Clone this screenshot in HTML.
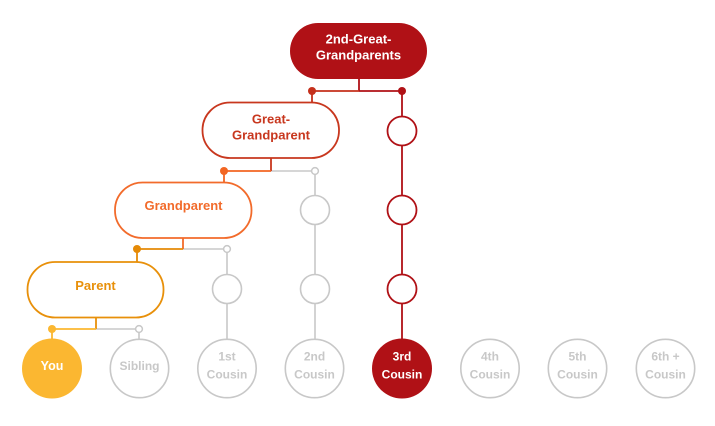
<!DOCTYPE html>
<html><head><meta charset="utf-8"><style>
html,body{margin:0;padding:0;background:#fff;}
svg{display:block;}
text{font-family:"Liberation Sans",Arial,sans-serif;font-weight:bold;text-anchor:middle;}
</style></head><body>
<svg width="715" height="426" viewBox="0 0 715 426" xmlns="http://www.w3.org/2000/svg">
<!-- gray connectors -->
<g stroke="#c8c8c8" stroke-width="1.6" fill="none">
  <line x1="271" y1="171" x2="315" y2="171"/>
  <line x1="315" y1="171" x2="315" y2="339"/>
  <line x1="183" y1="249" x2="227" y2="249"/>
  <line x1="227" y1="249" x2="227" y2="339"/>
  <line x1="96" y1="329" x2="139" y2="329"/>
  <line x1="139" y1="329" x2="139" y2="339"/>
</g>
<!-- red column -->
<g stroke="#b01116" stroke-width="1.8" fill="none">
  <line x1="359" y1="91" x2="402" y2="91"/>
  <line x1="402" y1="91" x2="402" y2="339"/>
  <line x1="359" y1="79" x2="359" y2="91"/>
</g>
<line x1="312" y1="91" x2="359" y2="91" stroke="#c5301c" stroke-width="1.8"/>
<line x1="312" y1="91" x2="312" y2="103" stroke="#c5301c" stroke-width="1.8"/>
<!-- great-grandparent connectors -->
<line x1="271" y1="158" x2="271" y2="171" stroke="#c8371e" stroke-width="1.8"/>
<line x1="224" y1="171" x2="271" y2="171" stroke="#f26522" stroke-width="1.8"/>
<line x1="224" y1="171" x2="224" y2="182" stroke="#f26522" stroke-width="1.8"/>
<!-- grandparent connectors -->
<line x1="183" y1="238" x2="183" y2="249" stroke="#f26b2b" stroke-width="1.8"/>
<line x1="137" y1="249" x2="183" y2="249" stroke="#e58a06" stroke-width="1.8"/>
<line x1="137" y1="249" x2="137" y2="262" stroke="#e58a06" stroke-width="1.8"/>
<!-- parent connectors -->
<line x1="96" y1="318" x2="96" y2="329" stroke="#e8900a" stroke-width="1.8"/>
<line x1="52" y1="329" x2="96" y2="329" stroke="#fbb731" stroke-width="1.8"/>
<line x1="52" y1="329" x2="52" y2="339" stroke="#fbb731" stroke-width="1.8"/>

<!-- dots -->
<circle cx="312" cy="91" r="4" fill="#c5301c"/>
<circle cx="402" cy="91" r="4" fill="#b01116"/>
<circle cx="224" cy="171" r="4" fill="#f26522"/>
<circle cx="137" cy="249" r="4" fill="#e58a06"/>
<circle cx="52" cy="329" r="4" fill="#fbb731"/>
<circle cx="315" cy="171" r="3.4" fill="#fff" stroke="#c8c8c8" stroke-width="1.5"/>
<circle cx="227" cy="249" r="3.4" fill="#fff" stroke="#c8c8c8" stroke-width="1.5"/>
<circle cx="139" cy="329" r="3.4" fill="#fff" stroke="#c8c8c8" stroke-width="1.5"/>

<!-- small circles -->
<g fill="#fff" stroke="#c8c8c8" stroke-width="1.6">
  <circle cx="315" cy="210" r="14.5"/>
  <circle cx="315" cy="289" r="14.5"/>
  <circle cx="227" cy="289" r="14.5"/>
</g>
<g fill="#fff" stroke="#b01116" stroke-width="1.8">
  <circle cx="402" cy="131" r="14.5"/>
  <circle cx="402" cy="210" r="14.5"/>
  <circle cx="402" cy="289" r="14.5"/>
</g>

<!-- pills -->
<rect x="290" y="23" width="137" height="56" rx="28" fill="#b01116"/>
<text x="358.5" y="43.5" font-size="13" fill="#fff">2nd-Great-</text>
<text x="358.5" y="59.5" font-size="13" fill="#fff">Grandparents</text>

<rect x="202.5" y="102.5" width="136.5" height="55.5" rx="27.5" fill="#fff" stroke="#c8371e" stroke-width="1.8"/>
<text x="271" y="123.3" font-size="13" fill="#c8371e">Great-</text>
<text x="271" y="139.3" font-size="13" fill="#c8371e">Grandparent</text>

<rect x="115" y="182.5" width="136.5" height="55.5" rx="27.5" fill="#fff" stroke="#f26b2b" stroke-width="1.8"/>
<text x="183.5" y="210" font-size="13" fill="#f26b2b">Grandparent</text>

<rect x="27.5" y="262" width="136" height="55.5" rx="27.5" fill="#fff" stroke="#e8900a" stroke-width="1.8"/>
<text x="95.5" y="290" font-size="13" fill="#e8900a">Parent</text>

<!-- bottom circles -->
<circle cx="52" cy="368.5" r="30" fill="#fbb731"/>
<text x="52" y="370" font-size="12.5" fill="#fff">You</text>

<g fill="#fff" stroke="#c8c8c8" stroke-width="1.6">
  <circle cx="139.5" cy="368.5" r="29.2"/>
  <circle cx="227" cy="368.5" r="29.2"/>
  <circle cx="314.5" cy="368.5" r="29.2"/>
  <circle cx="490" cy="368.5" r="29.2"/>
  <circle cx="577.5" cy="368.5" r="29.2"/>
  <circle cx="665.5" cy="368.5" r="29.2"/>
</g>
<circle cx="402" cy="368.5" r="30" fill="#b01116"/>

<g font-size="12" fill="#c8c8c8">
  <text x="139.5" y="370">Sibling</text>
  <text x="227" y="360.5">1st</text><text x="227" y="378.5">Cousin</text>
  <text x="314.5" y="360.5">2nd</text><text x="314.5" y="378.5">Cousin</text>
  <text x="490" y="360.5">4th</text><text x="490" y="378.5">Cousin</text>
  <text x="577.5" y="360.5">5th</text><text x="577.5" y="378.5">Cousin</text>
  <text x="665.5" y="360.5">6th +</text><text x="665.5" y="378.5">Cousin</text>
</g>
<text x="402" y="360.5" font-size="12" fill="#fff">3rd</text>
<text x="402" y="378.5" font-size="12" fill="#fff">Cousin</text>
</svg>
</body></html>
